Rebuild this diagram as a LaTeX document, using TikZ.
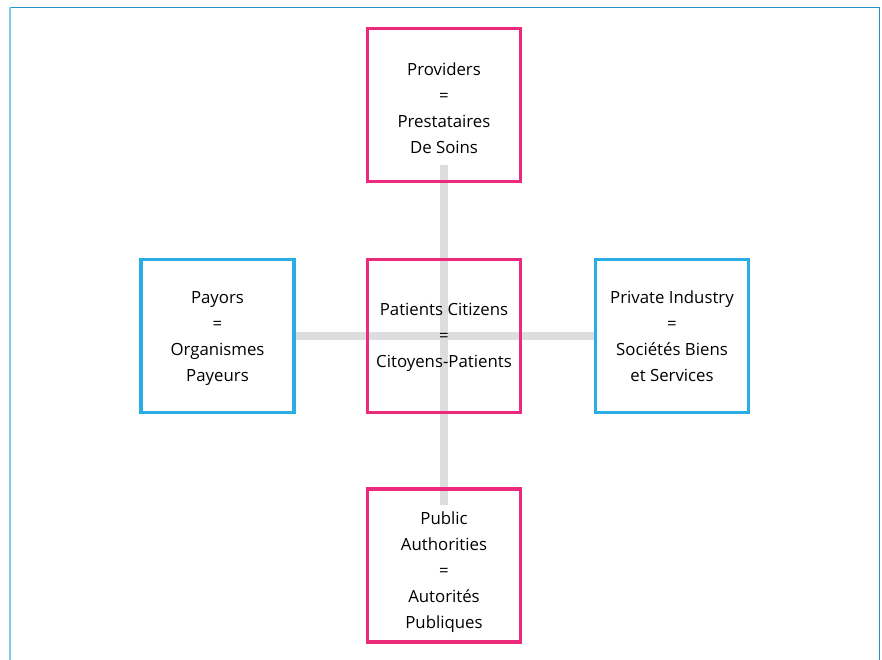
\documentclass[tikz,border=0pt]{standalone}
\usepackage{fontspec}
\setmainfont{Open Sans}
\usetikzlibrary{backgrounds}
\definecolor{pinkc}{HTML}{EB2A7B}
\definecolor{bluec}{HTML}{2AADE3}
\definecolor{greyc}{HTML}{DCDDDE}
\definecolor{framedark}{HTML}{2A90CB}
\definecolor{framelight}{HTML}{7FCBEA}
\tikzset{
  box/.style={draw, rectangle, line width=3.8pt, minimum width=153pt, minimum height=153pt,
    inner sep=0pt},
  pinkbox/.style={box, draw=pinkc},
  bluebox/.style={box, draw=bluec},
  boxtext/.style={align=center, inner sep=0pt, font=\fontsize{16.8}{26}\selectfont, yshift=-3.5pt},
  link/.style={draw=greyc, line width=8pt}
}
\begin{document}
\begin{tikzpicture}[x=1pt,y=-1pt]
\useasboundingbox (0,0) rectangle (882,660);
% frame
\draw[framedark, line width=1.5pt] (9.5,7.3) -- (879.3,7.3) -- (879.3,660);
\draw[framelight, line width=2pt] (10,7) -- (10,660);
% boxes
\node[pinkbox, label={[boxtext]center:Providers\\=\\Prestataires\\De Soins}] (prov) at (444,105) {};
\node[pinkbox, label={[boxtext, yshift=1.8pt]center:Patients Citizens\\=\\Citoyens-Patients}] (pat) at (444,336) {};
\node[pinkbox, label={[boxtext, yshift=-3.5pt]center:Public\\Authorities\\=\\Autorités\\Publiques}] (pub) at (444,565.5) {};
\node[bluebox, label={[boxtext, yshift=1pt]center:Payors\\=\\Organismes\\Payeurs}] (pay) at (217.5,336) {};
\node[bluebox, label={[boxtext, yshift=3.5pt]center:Private Industry\\=\\Sociétés Biens\\et Services}] (priv) at (672,336) {};
% links behind
\begin{scope}[on background layer]
\draw[link] (pay.east) -- (priv.west);
\draw[link] ([yshift=18.5pt]prov.south) -- ([yshift=-18pt]pub.north);
\end{scope}
\end{tikzpicture}
\end{document}
